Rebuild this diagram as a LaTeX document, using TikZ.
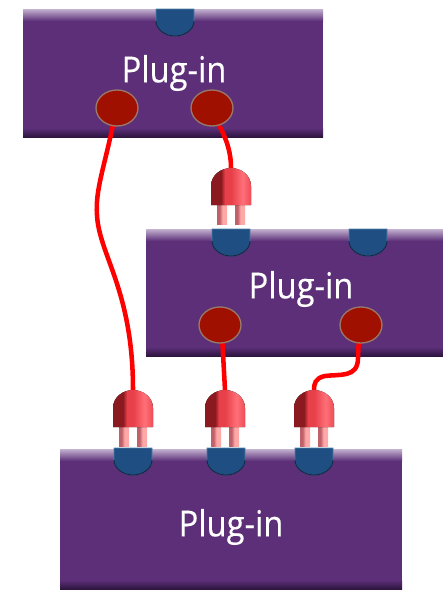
\documentclass[tikz,border=0pt]{standalone}
\usepackage{fontspec}
\newfontfamily\labfont[FakeBold=0.3]{Open Sans}
\usetikzlibrary{calc,shapes.geometric}
\definecolor{boxpurple}{HTML}{5C2F78}
\definecolor{boxlight}{HTML}{C4B2D0}
\definecolor{boxdark}{HTML}{2E1540}
\definecolor{socketblue}{HTML}{1F4F82}
\definecolor{socketedge}{HTML}{4F7FA8}
\definecolor{jackred}{HTML}{A01000}
\definecolor{jackrim}{HTML}{9A7868}
\definecolor{domeedge}{HTML}{8A1A20}
\definecolor{domemid}{HTML}{E8404A}
\definecolor{domelight}{HTML}{FF7078}
\definecolor{domeright}{HTML}{E4484E}
\definecolor{prongdark}{HTML}{C06068}
\definecolor{pronglight}{HTML}{FFA8A8}
\pgfdeclarehorizontalshading{domeshade}{100bp}{
  color(0bp)=(domeedge); color(25bp)=(domeedge); color(30bp)=(domemid);
  color(38bp)=(domemid); color(52bp)=(domelight); color(66bp)=(domemid);
  color(75bp)=(domeright)}
\pgfdeclarehorizontalshading{prongshade}{100bp}{
  color(0bp)=(prongdark); color(25bp)=(prongdark); color(40bp)=(pronglight);
  color(60bp)=(pronglight); color(75bp)=(pronglight!60!white)}
\tikzset{
  x=0.75pt,y=-0.75pt,
  wire/.style={draw=red,line width=3.4pt},
  jack/.style={ellipse,inner sep=0pt,minimum width=31.5pt,minimum height=27pt,fill=jackred,draw=jackrim,line width=1pt},
  boxlabel/.style={text=white,font=\labfont\fontsize{24.5}{25}\selectfont,inner sep=0pt},
  pics/socket/.style={code={
    \fill[socketblue,draw=socketedge,line width=0.5pt] (-19,0) -- (19,0) -- (19,12) .. controls (19,21) and (9,27) .. (0,27) .. controls (-9,27) and (-19,21) .. (-19,12) -- cycle;
    \draw[black!45!socketblue,line width=0.8pt] (19,12) .. controls (19,21) and (9,27) .. (0,27) .. controls (-9,27) and (-19,21) .. (-19,12);
  }},
  pics/plug/.style={code={
    \fill[shading=prongshade] (-14,36) rectangle (-4,56);
    \fill[shading=prongshade] (4,36) rectangle (14,56);
    \fill[shading=domeshade]
      (-20,37) -- (-20,18) .. controls (-20,7) and (-10,0) .. (0,0) .. controls (10,0) and (20,7) .. (20,18) -- (20,37) -- cycle;
  }}
}
\newcommand{\purplebox}[4]{% x1,y1,x2,y2
  \fill[boxpurple] (#1,#2) rectangle (#3,#4);
  \fill[top color=boxlight,bottom color=boxpurple] (#1,#2) rectangle (#3,#2+12);
  \fill[top color=boxpurple,bottom color=boxdark] (#1,#4-9) rectangle (#3,#4);
}
\newcommand{\lab}{\scalebox{1}[1.1]{Plug-in}}
\begin{document}
\begin{tikzpicture}
\useasboundingbox (0,0) rectangle (443,590);
\purplebox{23}{9}{323}{137}
\purplebox{146}{229}{443}{356}
\purplebox{60}{449}{402}{589}
\node[boxlabel] (t1) at (174,73) {\lab};
\node[boxlabel] (t2) at (301,289) {\lab};
\node[boxlabel] (t3) at (231,527) {\lab};
\pic at (175,9) {socket};
\pic at (231,229) {socket};
\pic at (368,229) {socket};
\pic at (133,448) {socket};
\pic at (226,448) {socket};
\pic at (314,448) {socket};
\coordinate (p1) at (231,168);
\coordinate (p2) at (133,390);
\coordinate (p3) at (225,390);
\coordinate (p4) at (314,390);
\draw[wire] (114,120) .. controls (105,165) and (95,190) .. (97,215) .. controls (99,255) and (133,290) .. (p2);
\draw[wire] (216,120) .. controls (225,135) and (231,150) .. (p1);
\draw[wire] (222,335) -- (p3);
\draw[wire] (359,335) -- (358,358) .. controls (358,378) and (340,374) .. (325,376) .. controls (315,378) and (314,384) .. (p4);
\node[jack] (j1) at (117,108) {};
\node[jack] (j2) at (212,108) {};
\node[jack] (j3) at (220,325) {};
\node[jack] (j4) at (361,325) {};
\pic at (p1) {plug};
\pic at (p2) {plug};
\pic at (p3) {plug};
\pic at (p4) {plug};
\end{tikzpicture}
\end{document}
